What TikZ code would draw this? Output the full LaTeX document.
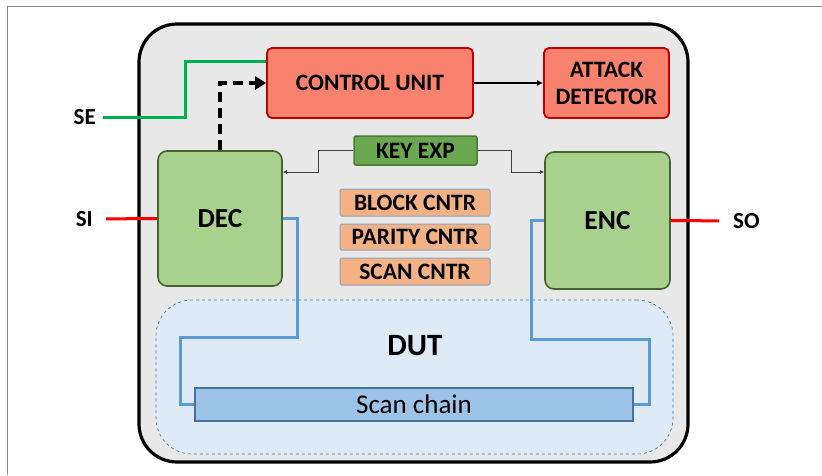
\documentclass[tikz,border=0pt]{standalone}
\usepackage{fontspec}
\setmainfont{Carlito}
\usepackage{tikz}
\usetikzlibrary{arrows.meta}

\definecolor{chipbg}{HTML}{E8E8E8}
\definecolor{cured}{HTML}{F8826D}
\definecolor{cuedge}{HTML}{C00000}
\definecolor{keyfill}{HTML}{6AA84F}
\definecolor{keyedge}{HTML}{4E7A36}
\definecolor{codfill}{HTML}{A9D18E}
\definecolor{codedge}{HTML}{44622C}
\definecolor{cntfill}{HTML}{F4B183}
\definecolor{cntedge}{HTML}{8AA5C4}
\definecolor{dutfill}{HTML}{DEEBF7}
\definecolor{dutedge}{HTML}{2E75B6}
\definecolor{chainfill}{HTML}{9DC3E6}
\definecolor{chainedge}{HTML}{41719C}
\definecolor{wireblue}{HTML}{5B9BD5}
\definecolor{segreen}{HTML}{00B050}

\tikzset{
  blk/.style={draw, rectangle, align=center, font=\bfseries\fontsize{23.5}{26}\selectfont,
    inner sep=0pt},
  redblk/.style={blk, fill=cured, draw=cuedge, line width=1.8pt, rounded corners=5pt},
  keyblk/.style={blk, fill=keyfill, draw=keyedge, line width=1.5pt, rounded corners=2pt},
  codec/.style={blk, fill=codfill, draw=codedge, line width=1.6pt, rounded corners=9pt,
    font=\bfseries\fontsize{27.5}{30}\selectfont},
  cntr/.style={blk, fill=cntfill, draw=cntedge, line width=1pt, rounded corners=1.5pt,
    minimum width=150pt},
  pinlbl/.style={inner sep=0pt, font=\bfseries\fontsize{23}{25}\selectfont},
  bluewire/.style={draw=wireblue, line width=3pt},
  keywire/.style={draw=black!75, line width=0.9pt, -{Latex[length=4pt,width=4pt]}}
}

\begin{document}
\begin{tikzpicture}[x=1pt, y=-1pt]
  \useasboundingbox (0,0) rectangle (822,475);
  \draw[black!45, line width=1pt] (7,475) |- (822,6);

  % chip
  \node[draw, line width=3.2pt, fill=chipbg, rounded corners=38pt,
        minimum width=549pt, minimum height=438pt] (chip) at (413.5,243) {};

  % DUT area
  \node[draw=dutedge, dashed, line width=0.6pt, fill=dutfill, rounded corners=36pt,
        minimum width=517pt, minimum height=154pt] (dut) at (414.5,377) {};
  \node[font=\bfseries\fontsize{31}{33}\selectfont] (dutlbl) at (415,346) {DUT};
  \node[draw=chainedge, line width=2pt, fill=chainfill, minimum width=438pt,
        minimum height=33pt, font=\fontsize{27}{29}\selectfont, inner sep=0pt]
        (chain) at (414,404.5) {Scan chain};

  \node[redblk, minimum width=206pt, minimum height=70pt] (cu) at (370,83) {CONTROL UNIT};
  \node[redblk, minimum width=125pt, minimum height=70pt] (ad) at (606.5,83)
        {ATTACK\\[1pt]DETECTOR};
  \node[keyblk, minimum width=123pt, minimum height=29pt] (kexp) at (415.5,150.5) {KEY EXP};
  \node[codec, minimum width=124pt, minimum height=135pt] (dec) at (220,218.5) {DEC};
  \node[codec, minimum width=125pt, minimum height=137pt] (enc) at (607.5,220.5) {ENC};
  \node[cntr, minimum height=27pt] (block) at (415,202.5) {BLOCK CNTR};
  \node[cntr, minimum height=26pt] (parity) at (415,237) {PARITY CNTR};
  \node[cntr, minimum height=27pt] (scan) at (415,271.5) {SCAN CNTR};

  \node[pinlbl, anchor=east] (se) at (96,117) {SE};
  \node[pinlbl, anchor=east] (si) at (93,219) {SI};
  \node[pinlbl, anchor=west] (so) at (733,221) {SO};

  \coordinate (sebend) at (185,61);
  \coordinate (kl) at (318,172);
  \coordinate (kr) at (511,172);
  \coordinate (bl1) at (297,337);
  \coordinate (bl2) at (180,404.5);
  \coordinate (br1) at (531,339);
  \coordinate (br2) at (649,404.5);

  \draw[segreen, line width=3pt, shorten <=7pt] (se.east) -| (sebend) -- (sebend -| cu.west);
  \draw[red, line width=3pt, shorten <=13pt] (si.east) -- (dec.west);
  \draw[red, line width=3pt, shorten <=14pt] (so.west) -- (enc.east);
  \draw[line width=4pt, dash pattern=on 10pt off 6pt, -{Triangle[length=11pt,width=13pt]}]
        (dec.north) |- (cu.west);
  \draw[line width=1.6pt, -{Latex[length=6pt,width=6pt]}] (cu.east) -- (ad.west);
  \draw[keywire] (kexp.west) -| (kl) -- (kl -| dec.east);
  \draw[keywire] (kexp.east) -| (kr) -- (kr -| enc.west);
  \draw[bluewire] (dec.east |- 0,218) -| (bl1) -| (bl2) -- (chain.west);
  \draw[bluewire] (enc.west |- 0,220) -| (br1) -| (br2) -- (chain.east);
\end{tikzpicture}
\end{document}
